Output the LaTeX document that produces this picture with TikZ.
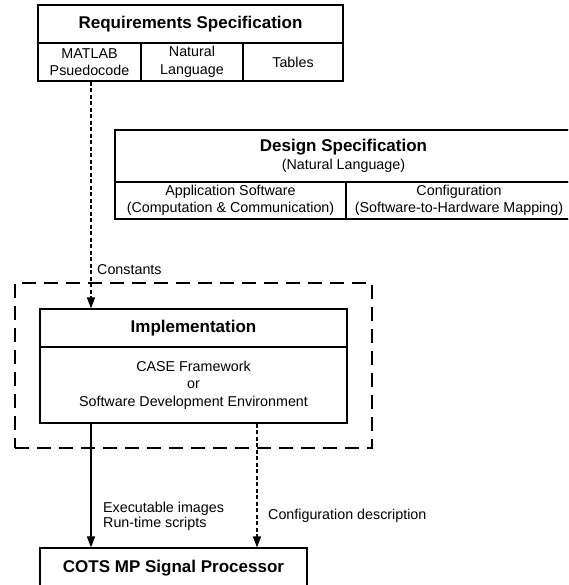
\documentclass[tikz,border=0pt]{standalone}
\usepackage{fontspec}
\setmainfont{Liberation Sans}
\usetikzlibrary{arrows.meta}
\tikzset{
  cell/.style={draw, line width=1.1pt, inner sep=0pt, align=center,
    font=\fontsize{14.3}{17.5}\selectfont},
  titlecell/.style={cell, font=\bfseries\fontsize{17}{20}\selectfont},
  frame/.style={draw, line width=1.7pt},
  groupbox/.style={draw, line width=1.6pt, dash pattern=on 14pt off 8pt, inner sep=0pt},
  dasharrow/.style={line width=1.3pt, dash pattern=on 4pt off 2.5pt, -{Triangle[length=11pt,width=8pt]}},
  solidarrow/.style={line width=1.4pt, -{Triangle[length=11pt,width=8pt]}},
  lbl/.style={inner sep=0pt, align=left, font=\fontsize{14.3}{15}\selectfont}
}
\begin{document}
\begin{tikzpicture}[x=1pt, y=-1pt]
\useasboundingbox (0,0) rectangle (568,585);
\clip (0,0) rectangle (568,585);
\fill[white] (0,0) rectangle (568,585);

% Requirements Specification
\node[titlecell, minimum width=305pt, minimum height=38pt] (reqtitle) at (190.5,24) {Requirements Specification};
\node[cell, minimum width=103pt, minimum height=38pt] (reqA) at (89.5,62) {MATLAB\\Psuedocode};
\node[cell, minimum width=102pt, minimum height=38pt] (reqB) at (192,62) {Natural\\Language};
\node[cell, minimum width=100pt, minimum height=38pt] (reqC) at (293,62) {Tables};
\draw[frame] (reqtitle.north west) rectangle (reqC.south east);

% Design Specification
\node[cell, minimum width=457pt, minimum height=52pt] (destitle) at (343.5,156)
  {{\bfseries\fontsize{17}{18}\selectfont Design Specification}\\(Natural Language)};
\node[cell, minimum width=231pt, minimum height=37pt] (desA) at (230.5,200.5)
  {Application Software\\(Computation \& Communication)};
\node[cell, minimum width=226pt, minimum height=37pt] (desB) at (459,200.5)
  {Configuration\\(Software-to-Hardware Mapping)};
\draw[frame] (destitle.north west) rectangle (desB.south east);

% Implementation group
\node[groupbox, minimum width=357pt, minimum height=165pt] (group) at (193.5,365.5) {};
\node[titlecell, minimum width=307pt, minimum height=38pt] (impltitle) at (193.5,328) {Implementation};
\node[cell, minimum width=307pt, minimum height=76pt] (implbody) at (193.5,385)
  {CASE Framework\\or\\Software Development Environment};
\draw[frame] (impltitle.north west) rectangle (implbody.south east);

% COTS
\node[titlecell, minimum width=267pt, minimum height=40pt] (cots) at (173.5,568) {COTS MP Signal Processor};
\draw[frame] (cots.north west) rectangle (cots.south east);

% connectors
\coordinate (xa) at (91,0);
\coordinate (xb) at (257,0);
\draw[dasharrow] (xa |- reqA.south) -- (xa |- impltitle.north);
\node[lbl, anchor=west] (constants) at (97,270) {Constants};

\draw[solidarrow] (xa |- implbody.south) -- (xa |- cots.north);
\draw[dasharrow] (xb |- implbody.south) -- (xb |- cots.north);
\node[lbl, anchor=west] (exec) at (103,516.5) {Executable images\\Run-time scripts};
\node[lbl, anchor=west] (confdesc) at (268,516) {Configuration description};
\end{tikzpicture}
\end{document}
